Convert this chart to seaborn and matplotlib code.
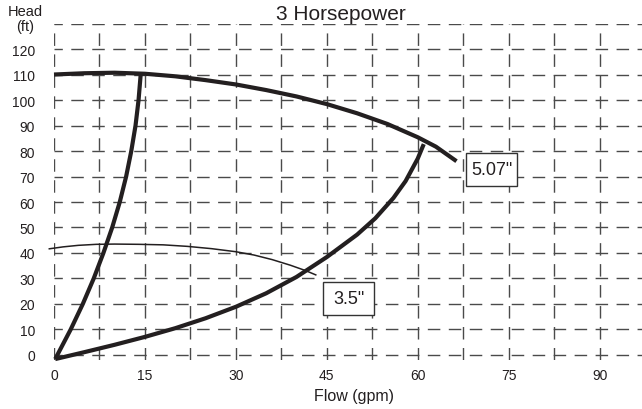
import numpy as np
import pandas as pd
import matplotlib
matplotlib.use("Agg")
import matplotlib.pyplot as plt
from matplotlib.patches import Rectangle
import seaborn as sns

# ---- data ----
title = "3 Horsepower"
x_ticks = [0, 15, 30, 45, 60, 75, 90]
y_ticks = [0, 10, 20, 30, 40, 50, 60, 70, 80, 90, 100, 110, 120, 130]
y_tick_labels = ["0", "10", "20", "30", "40", "50", "60", "70", "80", "90", "100", "110", "120", ""]

# 5.07" impeller pump curve (flow gpm, head ft)
pump507_flow = [0, 5, 10, 15, 20, 25, 30, 35, 40, 45, 50, 55, 60, 63, 66.4]
pump507_head = [110.0, 110.5, 110.7, 110.3, 109.3, 107.8, 106.1, 103.9, 101.4, 98.4, 94.8, 90.6, 85.4, 81.7, 76.0]

# 3.5" impeller pump curve
pump35_flow = [-0.9, 1.5, 4, 7, 10, 14, 18, 22, 26, 30, 33, 36, 39, 41.5, 43.3]
pump35_head = [41.6, 42.4, 43.0, 43.4, 43.5, 43.4, 43.2, 42.6, 41.7, 40.5, 39.2, 37.4, 35.2, 33.1, 31.3]

# steep curve (origin up to the 5.07" curve at ~14 gpm)
steep_flow = [0.2, 0.55, 2.75, 4.75, 6.55, 8.15, 9.6, 10.85, 11.9, 12.75, 13.45, 13.95, 14.3]
steep_head = [-1.6, 0, 10, 20, 30, 40, 50, 60, 70, 80, 90, 100, 110]

# system curve (origin up to the 5.07" curve at ~61 gpm)
system_flow = [0.2, 5, 10, 15, 20, 25, 30, 35, 40, 45, 50, 53, 56, 58, 60, 61]
system_head = [-1.6, 1.1, 4.0, 7.1, 10.5, 14.4, 18.9, 24.2, 30.6, 38.4, 47.2, 53.6, 61.6, 68.2, 77.0, 82.7]

# labels
lab_text = ['5.07"', '3.5"']
lab_flow = [72.2, 48.6]
lab_head = [72.9, 22.0]

# ---- styling ----
sns.set_style("white")
plt.rcParams["font.family"] = ["Liberation Sans", "DejaVu Sans"]
plt.rcParams["lines.scale_dashes"] = False

INK = "#231f20"
GRID = "#4a4a4a"

fig = plt.figure(figsize=(6.42, 4.10), dpi=100)
ax = fig.add_axes([0.08411, 0.1193, 0.91589, 0.8209])
ax.set_xlim(0, 97)
ax.set_ylim(-2, 130)

for s in ax.spines.values():
    s.set_visible(False)

ax.set_xticks(x_ticks)
ax.set_xticklabels([str(v) for v in x_ticks])
ax.set_xticks(np.arange(0, 97, 7.5), minor=True)
ax.set_yticks(y_ticks)
ax.set_yticklabels(y_tick_labels)

ax.tick_params(axis="y", which="major", direction="out", length=7.5, width=1.0,
               color=GRID, pad=6, labelsize=10, labelcolor=INK)
ax.tick_params(axis="x", which="both", length=0, pad=6, labelsize=10, labelcolor=INK)

dash = (9.0, 6.1)
ax.grid(True, axis="x", which="both", color=GRID, lw=1.0, linestyle=(0, dash))
ax.grid(True, axis="y", which="major", color=GRID, lw=1.0, linestyle=(3.0, dash))
ax.set_axisbelow(True)

curves = [
    (pump507_flow, pump507_head, 3.0),
    (steep_flow, steep_head, 3.0),
    (system_flow, system_head, 3.0),
    (pump35_flow, pump35_head, 1.1),
]
for fx, fy, lw in curves:
    df = pd.DataFrame({"flow": fx, "head": fy})
    sns.lineplot(data=df, x="flow", y="head", ax=ax, color=INK, lw=lw,
                 sort=False, estimator=None, clip_on=False, zorder=3,
                 solid_capstyle="butt", solid_joinstyle="round")

# label boxes: 51 x 33 px
box_w = 51 / (588 / 97)
box_h = 33 / (331.5 / 130)
for t, fx, fy in zip(lab_text, lab_flow, lab_head):
    ax.add_patch(Rectangle((fx - box_w / 2, fy - box_h / 2), box_w, box_h,
                           fc="white", ec="#333333", lw=1.0, zorder=4))
    ax.text(fx, fy, t, ha="center", va="center", fontsize=13, color=INK, zorder=5)

ax.set_xlabel("")
ax.set_ylabel("")

fig.text(341 / 642, 1 - 20 / 410, title, ha="center", va="baseline", fontsize=15, color=INK)
fig.text(25 / 642, 1 - 12 / 410, "Head", ha="center", va="center", fontsize=10.5, color=INK)
fig.text(25 / 642, 1 - 27 / 410, "(ft)", ha="center", va="center", fontsize=10.5, color=INK)
fig.text(354 / 642, 1 - 397 / 410, "Flow (gpm)", ha="center", va="center", fontsize=11.5, color=INK)

fig.savefig("out.png", dpi=100)
